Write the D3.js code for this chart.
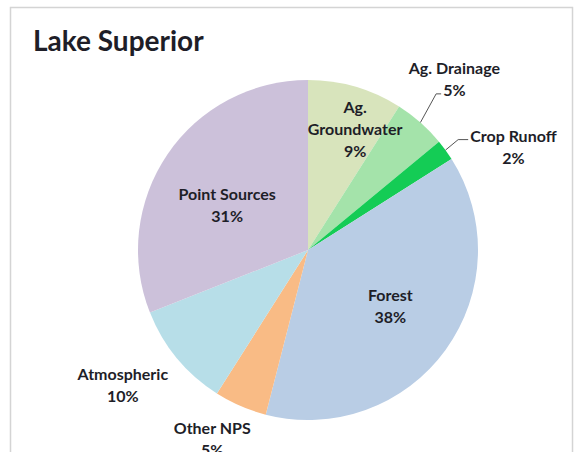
<!DOCTYPE html>
<html>
<head>
<meta charset="utf-8">
<script src="https://cdn.jsdelivr.net/npm/d3@7"></script>
<style>
  html, body { margin: 0; padding: 0; background: #fff; }
  svg { display: block; }
  text { font-family: Lato, "Open Sans", sans-serif; font-weight: 700; fill: #1e1e28; }
</style>
</head>
<body>
<script>
// ---- data ----
const title = "Lake Superior";
const categories = ["Ag. Groundwater", "Ag. Drainage", "Crop Runoff", "Forest", "Other NPS", "Atmospheric", "Point Sources"];
const values = [9, 5, 2, 38, 5, 10, 31];
const labelLines = [["Ag.", "Groundwater"], ["Ag. Drainage"], ["Crop Runoff"], ["Forest"], ["Other NPS"], ["Atmospheric"], ["Point Sources"]];

// ---- styles / layout ----
const colors = ["#d8e4bc", "#a4e3aa", "#14cc55", "#b9cde5", "#f9bb85", "#b7dee8", "#ccc1da"];
// label placement: [radius factor, angle shift in degrees]
const labelPlace = [[0.76, 5.2], [1.32, -0.7], [1.35, 9.5], [0.59, -1.2], [1.25, 3.4], [1.35, 3.4], [0.54, -5.9]];
// leader line: index of the text line it points to (-1 = none)
const leaderLine = [-1, 1, 0, -1, -1, -1, -1];

const W = 577, H = 452;
const cx = 308, cy = 250, R = 170;

const svg = d3.select("body").append("svg").attr("width", W).attr("height", H);

// frame
svg.append("rect").attr("x", 10.5).attr("y", 7.5).attr("width", 562).attr("height", H)
  .attr("fill", "#fff").attr("stroke", "#d4d4d4").attr("stroke-width", 1.5);

svg.append("text").attr("x", 33).attr("y", 51).attr("font-size", 28).text(title);

const pie = d3.pie().sort(null).value(d => d)(values);
const arc = d3.arc().innerRadius(0).outerRadius(R);
const g = svg.append("g").attr("transform", `translate(${cx},${cy})`);

g.selectAll("path.slice").data(pie).join("path")
  .attr("class", "slice")
  .attr("d", arc)
  .attr("fill", (d, i) => colors[i]);

const fs = 16, lh = 22;
function pt(r, a) { return [r * Math.sin(a), -r * Math.cos(a)]; }

pie.forEach((d, i) => {
  const mid = (d.startAngle + d.endAngle) / 2;
  const [rf, shift] = labelPlace[i];
  const a = mid + shift * Math.PI / 180;
  const [x, y] = pt(R * rf, a);
  const lines = labelLines[i].concat([d3.format(".0%")(values[i] / 100)]);
  const t = g.append("text").attr("text-anchor", "middle").attr("font-size", fs);
  const y0 = y - (lines.length - 1) * lh / 2 + 5;
  const spans = lines.map((s, k) =>
    t.append("tspan").attr("x", x).attr("y", y0 + k * lh).text(s));
  const li = leaderLine[i];
  if (li >= 0) {
    const w = spans[li].node().getComputedTextLength();
    const [ex, ey] = pt(R, mid);
    const bx = x - w / 2 - 2, by = y0 + li * lh - 2;
    const kx = bx - (li === 0 ? 10 : 5);
    g.append("path")
      .attr("d", `M${ex},${ey}L${kx},${by}L${bx},${by}`)
      .attr("fill", "none").attr("stroke", "#555").attr("stroke-width", 1);
  }
});
</script>
</body>
</html>
